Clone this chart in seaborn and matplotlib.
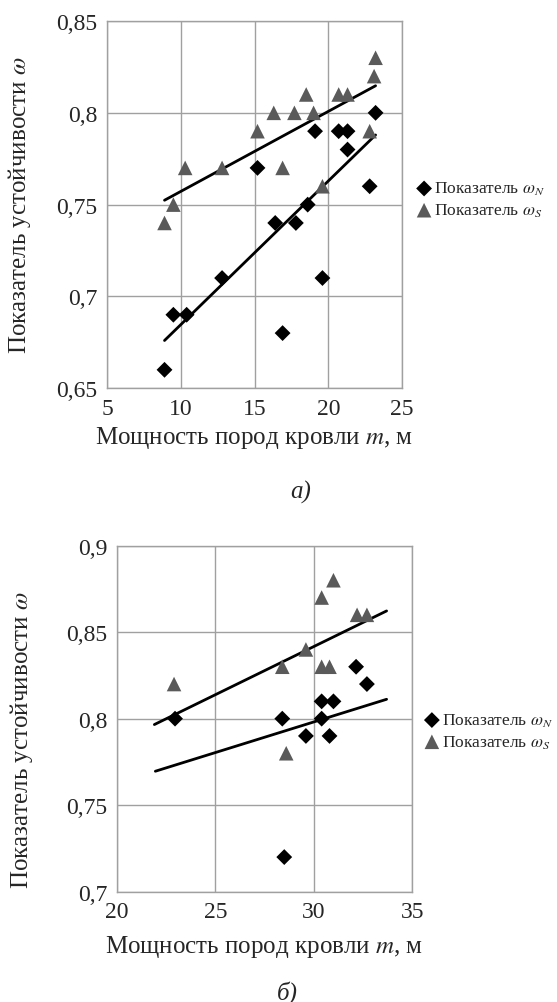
import numpy as np
import matplotlib
matplotlib.use("Agg")
import matplotlib.pyplot as plt
import seaborn as sns

# panel a) - roof rock thickness vs stability index
a_n_x = [8.9, 9.5, 10.4, 12.8, 15.2, 16.4, 16.9, 17.8, 18.6, 19.1, 19.6, 20.7, 21.3, 21.3, 22.8, 23.2]
a_n_y = [0.66, 0.69, 0.69, 0.71, 0.77, 0.74, 0.68, 0.74, 0.75, 0.79, 0.71, 0.79, 0.79, 0.78, 0.76, 0.80]
a_s_x = [8.9, 9.5, 10.3, 12.8, 15.2, 16.3, 16.9, 17.7, 18.5, 19.0, 19.6, 20.7, 21.3, 22.8, 23.1, 23.2]
a_s_y = [0.74, 0.75, 0.77, 0.77, 0.79, 0.80, 0.77, 0.80, 0.81, 0.80, 0.76, 0.81, 0.81, 0.79, 0.82, 0.83]

# panel б)
b_n_x = [22.95, 28.4, 28.5, 29.6, 30.4, 30.4, 30.8, 31.0, 32.15, 32.7]
b_n_y = [0.80, 0.80, 0.72, 0.79, 0.80, 0.81, 0.79, 0.81, 0.83, 0.82]
b_s_x = [22.9, 28.4, 28.6, 29.6, 30.4, 30.4, 30.8, 31.0, 32.2, 32.7]
b_s_y = [0.82, 0.83, 0.78, 0.84, 0.87, 0.83, 0.83, 0.88, 0.86, 0.86]

a_xticks = [5, 10, 15, 20, 25]
a_yticks = [0.65, 0.70, 0.75, 0.80, 0.85]
a_ylabels = ["0,65", "0,7", "0,75", "0,8", "0,85"]
b_xticks = [20, 25, 30, 35]
b_yticks = [0.70, 0.75, 0.80, 0.85, 0.90]
b_ylabels = ["0,7", "0,75", "0,8", "0,85", "0,9"]

# trend line forecast (units of x) before / after the data
a_forecast = 0.0
b_forecast = 1.0

lab_n = "Показатель $\\omega_N$"
lab_s = "Показатель $\\omega_S$"
xlab = "Мощность пород кровли $m$, м"
ylab = "Показатель устойчивости $\\omega$"

sns.set_style("white")
plt.rcParams["font.family"] = ["Liberation Serif", "DejaVu Serif"]
plt.rcParams["mathtext.fontset"] = "stix"

GRID = "#a0a0a0"
TRI = "#5a5a5a"


def trend(ax, xs, ys, ext):
    k, b = np.polyfit(xs, ys, 1)
    tx = np.array([min(xs) - ext, max(xs) + ext])
    ax.plot(tx, k * tx + b, color="black", lw=2, zorder=3)


def panel(ax, nx, ny, sx, sy, ext, xticks, yticks, ylabels):
    sns.scatterplot(x=nx, y=ny, ax=ax, marker="D", s=65, color="black",
                    edgecolor="none", label=lab_n, zorder=4)
    sns.scatterplot(x=sx, y=sy, ax=ax, marker="^", s=110, color=TRI,
                    edgecolor="none", label=lab_s, zorder=4)
    trend(ax, sx, sy, ext)
    trend(ax, nx, ny, ext)
    ax.set_xlim(xticks[0], xticks[-1])
    ax.set_ylim(yticks[0], yticks[-1])
    ax.set_xticks(xticks, [str(t) for t in xticks])
    ax.set_yticks(yticks, ylabels)
    ax.grid(True, color=GRID, lw=1)
    for sp in ax.spines.values():
        sp.set_color(GRID)
        sp.set_linewidth(1)
    ax.tick_params(direction="out", length=4, color=GRID, labelsize=17, pad=3)
    ax.set_xlabel(xlab, fontsize=18, va="center")
    ax.set_ylabel(ylab, fontsize=18, va="center")


fig = plt.figure(figsize=(5.57, 10.03), dpi=100)
ax1 = fig.add_axes([0.192, 0.612, 0.530, 0.366])
ax2 = fig.add_axes([0.210, 0.110, 0.530, 0.345])

panel(ax1, a_n_x, a_n_y, a_s_x, a_s_y, a_forecast, a_xticks, a_yticks, a_ylabels)
panel(ax2, b_n_x, b_n_y, b_s_x, b_s_y, b_forecast, b_xticks, b_yticks, b_ylabels)

ax1.xaxis.set_label_coords(0.5, -0.134)
ax1.yaxis.set_label_coords(-0.295, 0.5)
ax2.xaxis.set_label_coords(0.5, -0.156)
ax2.yaxis.set_label_coords(-0.322, 0.44)

for ax, pos in [(ax1, (0.752, 0.80)), (ax2, (0.766, 0.270))]:
    ax.legend(loc="center left", bbox_to_anchor=pos, bbox_transform=fig.transFigure,
              frameon=False, fontsize=12.5, handlelength=0.6, handletextpad=0.3,
              borderpad=0, labelspacing=0.25, borderaxespad=0)

fig.text(0.539, 1 - 492 / 1003, "а)", fontsize=18, style="italic", ha="center", va="center")
fig.text(0.516, 1 - 993 / 1003, "б)", fontsize=18, style="italic", ha="center", va="center")

fig.savefig("out.png", dpi=100)
